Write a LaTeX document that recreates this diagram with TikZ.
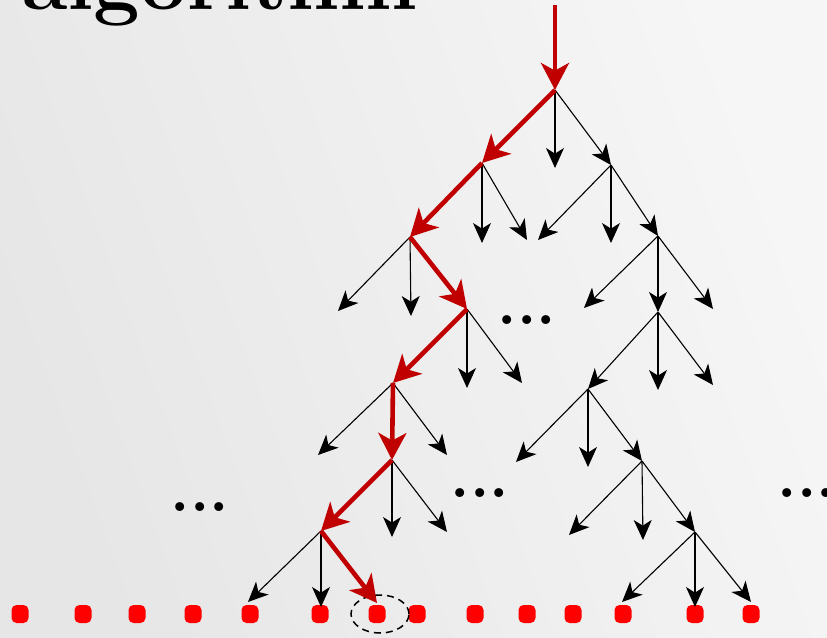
\documentclass[tikz,border=0pt]{standalone}
\usetikzlibrary{arrows.meta, shapes.geometric}
\definecolor{pathred}{RGB}{192,0,0}
\definecolor{leafred}{RGB}{255,0,0}
\definecolor{bgdark}{RGB}{230,230,230}
\definecolor{bglight}{RGB}{246,246,246}

\begin{document}
\begin{tikzpicture}[x=0.5pt, y=-0.5pt,
		arr/.style={-{Stealth[length=10pt, width=9pt, inset=2.8pt]}, line width=0.55pt, black},
		hot/.style={-{Stealth[length=13.5pt, width=14pt, inset=3.8pt]}, line width=2.3pt, pathred},
		leaf/.style={fill=leafred, rounded corners=2.5pt, minimum width=8.5pt,
		             minimum height=9pt, inner sep=0pt},
		more/.style={font=\fontsize{31}{31}\selectfont\bfseries, inner sep=0pt}]
		\useasboundingbox (0,0) rectangle (827,638);
		\clip (0,0) rectangle (827,638);
		\shade[left color=bgdark, right color=bglight, shading angle=110] (0,0) rectangle (827,638);
		\node[anchor=base west, inner sep=0pt, font=\fontsize{41.5}{45}\selectfont\bfseries] (title) at (22,9) {algorithm};
		% tree nodes
		\coordinate (top) at (555,5);
		\coordinate (r) at (555,90);
		\coordinate (a) at (482,163);
		\coordinate (b) at (611,165);
		\coordinate (c) at (410,237);
		\coordinate (d) at (658,236);
		\coordinate (e) at (467,309);
		\coordinate (f) at (658,312);
		\coordinate (g) at (393,383);
		\coordinate (h) at (588,389);
		\coordinate (i) at (392,460);
		\coordinate (k) at (642,461);
		\coordinate (j) at (321,531);
		\coordinate (l) at (695,532);
		\coordinate (hit) at (377,603);
		% open ends
		\coordinate (r2) at (555,168);
		\coordinate (a1) at (482,243); \coordinate (a3) at (527,240);
		\coordinate (b1) at (538,240); \coordinate (b2) at (611,243);
		\coordinate (c1) at (338,311); \coordinate (c2) at (411,316);
		\coordinate (d1) at (584,308); \coordinate (d3) at (713,309);
		\coordinate (e2) at (467,388); \coordinate (e3) at (522,383);
		\coordinate (f2) at (658,390); \coordinate (f3) at (713,385);
		\coordinate (g1) at (318,455); \coordinate (g3) at (447,455);
		\coordinate (h1) at (516,462); \coordinate (h2) at (588,467);
		\coordinate (i2) at (392,537); \coordinate (i3) at (447,532);
		\coordinate (k1) at (569,535); \coordinate (k2) at (643,540);
		\coordinate (j1) at (248,602); \coordinate (j2) at (321,607);
		\coordinate (l1) at (622,602); \coordinate (l2) at (695,607); \coordinate (l3) at (751,602);
		% leaves
		\foreach \x [count=\n] in {20,83,137,193,250,320,377,417,475,527,573,623,695,751}
			\node[leaf] (dot\n) at (\x,614) {};
		\node[draw, dash pattern=on 3.5pt off 2.5pt, line width=0.75pt, ellipse,
		      minimum width=29pt, minimum height=19pt, inner sep=0pt] (pick) at (380,614) {};
		\node[more] (gap1) at (200,507) {...};
		\node[more] (gap2) at (527,320) {...};
		\node[more] (gap3) at (480,493) {...};
		\node[more] (gap4) at (807,493) {...};
		\path[arr] (r) edge (r2) edge (b);
		\path[arr] (a) edge (a1) edge (a3);
		\path[arr] (b) edge (b1) edge (b2) edge (d);
		\path[arr] (c) edge (c1) edge (c2);
		\path[arr] (d) edge (d1) edge (f) edge (d3);
		\path[arr] (e) edge (e2) edge (e3);
		\path[arr] (f) edge (h) edge (f2) edge (f3);
		\path[arr] (g) edge (g1) edge (g3);
		\path[arr] (h) edge (h1) edge (h2) edge (k);
		\path[arr] (i) edge (i2) edge (i3);
		\path[arr] (k) edge (k1) edge (k2) edge (l);
		\path[arr] (j) edge (j1) edge (j2);
		\path[arr] (l) edge (l1) edge (l2) edge (l3);
		\draw[hot] (top) -- (r);
		\draw[hot] (r) -- (a);
		\draw[hot] (a) -- (c);
		\draw[hot] (c) -- (e);
		\draw[hot] (e) -- (g);
		\draw[hot] (g) -- (i);
		\draw[hot] (i) -- (j);
		\draw[hot] (j) -- (hit);
	\end{tikzpicture}
\end{document}
